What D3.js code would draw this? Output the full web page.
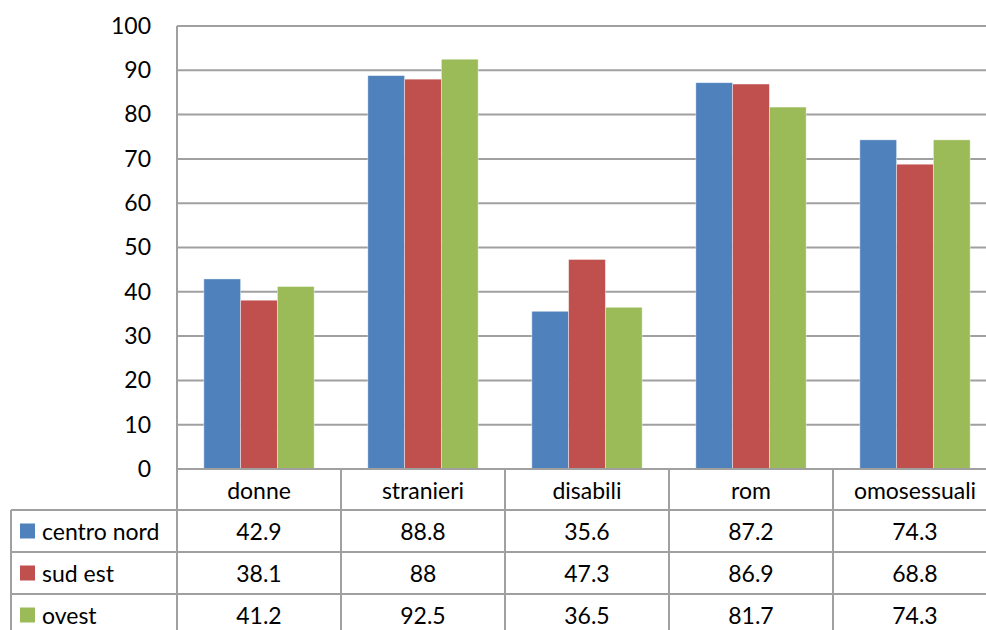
<!DOCTYPE html>
<html>
<head>
<meta charset="utf-8">
<script src="https://cdn.jsdelivr.net/npm/d3@7/dist/d3.min.js"></script>
<style>
  html, body { margin: 0; padding: 0; background: #fff; }
  svg { display: block; font-family: Lato, "Open Sans", sans-serif; }
</style>
</head>
<body>
<svg id="chart" width="986" height="630"></svg>
<script>
const categories = ["donne", "stranieri", "disabili", "rom", "omosessuali"];
const seriesNames = ["centro nord", "sud est", "ovest"];
const centroNord = [42.9, 88.8, 35.6, 87.2, 74.3];
const sudEst = [38.1, 88, 47.3, 86.9, 68.8];
const ovest = [41.2, 92.5, 36.5, 81.7, 74.3];
const seriesColors = ["#4F81BD", "#C0504D", "#9BBB59"];
const yTicks = [0, 10, 20, 30, 40, 50, 60, 70, 80, 90, 100];

const series = [centroNord, sudEst, ovest];

const svg = d3.select("#chart");
const plotLeft = 177, catW = 164, plotTop = 26, plotBottom = 469;
const plotRight = plotLeft + catW * categories.length;
const gridColor = "#a0a0a0";
const fontSize = 23;

const x = d3.scaleBand().domain(categories).range([plotLeft, plotRight]).paddingInner(0).paddingOuter(0);
const xs = d3.scaleBand().domain(d3.range(series.length)).range([0, x.bandwidth()]).paddingInner(0).paddingOuter(0.73);
const y = d3.scaleLinear().domain([0, 100]).range([plotBottom, plotTop]);

// gridlines
svg.append("g").selectAll("line").data(yTicks.filter(t => t > 0)).join("line")
  .attr("x1", plotLeft).attr("x2", 986)
  .attr("y1", d => y(d)).attr("y2", d => y(d))
  .attr("stroke", gridColor).attr("stroke-width", 2);

// y axis labels
const yAxis = d3.axisLeft(y).tickValues(yTicks).tickSize(0).tickPadding(26);
const ya = svg.append("g").attr("transform", `translate(${plotLeft},0)`).call(yAxis);
ya.select(".domain").remove();
ya.selectAll("text").attr("font-size", fontSize).attr("fill", "#000").attr("font-family", "Lato, 'Open Sans', sans-serif");

// bars
const groups = svg.append("g").selectAll("g").data(categories).join("g")
  .attr("transform", d => `translate(${x(d)},0)`);
groups.selectAll("rect").data((c, i) => series.map((s, j) => ({ j, v: s[i] }))).join("rect")
  .attr("x", d => xs(d.j))
  .attr("width", xs.bandwidth())
  .attr("y", d => y(d.v))
  .attr("height", d => y(0) - y(d.v))
  .attr("fill", d => seriesColors[d.j])
  .attr("stroke", "rgba(255,255,255,0.5)").attr("stroke-width", 0.8);

// axis line and left vertical
svg.append("line").attr("x1", plotLeft).attr("x2", 986).attr("y1", plotBottom).attr("y2", plotBottom)
  .attr("stroke", gridColor).attr("stroke-width", 2);
svg.append("line").attr("x1", plotLeft).attr("x2", plotLeft).attr("y1", plotTop).attr("y2", 640)
  .attr("stroke", gridColor).attr("stroke-width", 2);

// data table
const rowH = 42;
const rowTop = plotBottom + 41;
const tableLeft = 11;
const table = svg.append("g");
// vertical category separators
table.selectAll("line.v").data(categories.slice(1)).join("line").attr("class", "v")
  .attr("x1", d => x(d)).attr("x2", d => x(d)).attr("y1", plotBottom).attr("y2", 640)
  .attr("stroke", gridColor).attr("stroke-width", 2);
// horizontal row lines
table.selectAll("line.h").data(d3.range(series.length)).join("line").attr("class", "h")
  .attr("x1", tableLeft).attr("x2", 986)
  .attr("y1", i => rowTop + i * rowH).attr("y2", i => rowTop + i * rowH)
  .attr("stroke", gridColor).attr("stroke-width", 2);
table.append("line").attr("x1", tableLeft).attr("x2", tableLeft).attr("y1", rowTop).attr("y2", 640)
  .attr("stroke", gridColor).attr("stroke-width", 2);

// category header
table.selectAll("text.cat").data(categories).join("text").attr("class", "cat")
  .attr("x", d => x(d) + x.bandwidth() / 2).attr("y", plotBottom + 21)
  .attr("text-anchor", "middle").attr("dominant-baseline", "central")
  .attr("font-size", fontSize).text(d => d);

// legend rows
series.forEach((s, j) => {
  const cy = rowTop + j * rowH + rowH / 2;
  table.append("rect").attr("x", 20).attr("y", cy - 7.5).attr("width", 15).attr("height", 15)
    .attr("fill", seriesColors[j]);
  table.append("text").attr("x", 42).attr("y", cy).attr("dominant-baseline", "central")
    .attr("font-size", fontSize).text(seriesNames[j]);
  table.selectAll(null).data(s).join("text")
    .attr("x", (d, i) => x(categories[i]) + x.bandwidth() / 2).attr("y", cy)
    .attr("text-anchor", "middle").attr("dominant-baseline", "central")
    .attr("font-size", fontSize).text(d => d);
});
</script>
</body>
</html>
